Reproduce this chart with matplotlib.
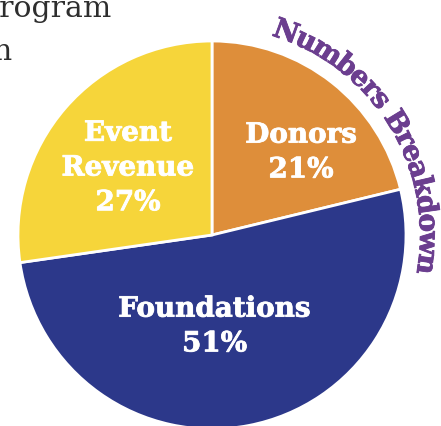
import numpy as np
import matplotlib
matplotlib.use("Agg")
import matplotlib.pyplot as plt
import matplotlib.patheffects as pe
from matplotlib.font_manager import FontProperties

# data
categories = ["Donors", "Foundations", "Event\nRevenue"]
shares = [21, 51, 27]
colors = ["#DE8E3A", "#2C388A", "#F6D53A"]
title = "Numbers Breakdown"

W, H = 441, 427
fig = plt.figure(figsize=(W / 100, H / 100), dpi=100)
ax = fig.add_axes([0, 0, 1, 1])

# pie centre / radius in pixel units (y measured up)
cx, cy, R = 212, H - 236, 194

ax.pie(
    shares,
    colors=colors,
    startangle=90,
    counterclock=False,
    center=(cx, cy),
    radius=R,
    wedgeprops=dict(edgecolor="white", linewidth=2),
)
ax.set_xlim(0, W)
ax.set_ylim(0, H)
ax.set_aspect("equal")
ax.axis("off")

# slice labels
label_pos = [(301, 153.5), (214.5, 327.5), (128, 169)]
for cat, val, (lx, ly) in zip(categories, shares, label_pos):
    ax.text(lx, H - ly, f"{cat}\n{val}%", ha="center", va="center",
            color="white", fontsize=20, fontweight="bold",
            family="DejaVu Serif", linespacing=1.37,
            path_effects=[pe.withStroke(linewidth=0.6, foreground="white")])

# curved heading around the pie
fp = FontProperties(family="DejaVu Serif", weight="bold", size=20)
renderer = fig.canvas.get_renderer()


def adv(s):
    w_pair = renderer.get_text_width_height_descent("xx", fp, ismath=False)[0]
    return renderer.get_text_width_height_descent("x" + s + "x", fp, ismath=False)[0] - w_pair


widths = np.array([adv(c) for c in title])
centres = np.cumsum(widths) - widths / 2
a0, a1 = 70.0, -7.8
angles = a0 + (centres - centres[0]) / (centres[-1] - centres[0]) * (a1 - a0)
rb = 208
for ch, ang in zip(title, angles):
    t = np.deg2rad(ang)
    ax.text(cx + rb * np.cos(t), cy + rb * np.sin(t), ch, fontproperties=fp,
            color="#6B3E8F", ha="center", va="baseline",
            rotation=ang - 90, rotation_mode="anchor",
            path_effects=[pe.withStroke(linewidth=0.6, foreground="#6B3E8F")])

# clipped body text from the page
ax.text(112, H - 17, "Program", ha="right", va="baseline", fontsize=21.5,
        family="DejaVu Serif", color="#2E2E2E")
ax.text(12, H - 60, "n", ha="right", va="baseline", fontsize=21.5,
        family="DejaVu Serif", color="#2E2E2E")

fig.savefig("out.png", dpi=100)
